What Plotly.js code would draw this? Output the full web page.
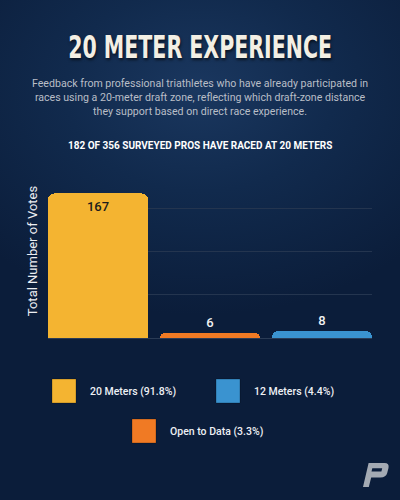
<!DOCTYPE html>
<html>
<head>
<meta charset="utf-8">
<script src="https://cdn.plot.ly/plotly-3.0.1.min.js"></script>
<style>
  html, body { margin: 0; padding: 0; }
  body {
    width: 400px; height: 500px; overflow: hidden;
    background: radial-gradient(ellipse 75% 45% at 50% 18%, #1a375f 0%, #112a4d 45%, #0b1d3a 100%) #0b1d3a;
  }
  #chart { width: 400px; height: 500px; }
</style>
</head>
<body>
<div id="chart"></div>
<script>
// Survey answers from pros who have raced with a 20 m draft zone
const categories = ["20 Meters", "Open to Data", "12 Meters"];
const votes = [167, 6, 8];
const barColors = ["#f4b431", "#f07a24", "#3a93d0"];
const respondents = 182;
const surveyed = 356;

const titleText = "20 METER EXPERIENCE";
const subtitleLines = [
  "Feedback from professional triathletes who have already participated in",
  "races using a 20-meter draft zone, reflecting which draft-zone distance",
  "they support based on direct race experience."
];
const headingText = respondents + " OF " + surveyed + " SURVEYED PROS HAVE RACED AT 20 METERS";

// Page geometry (pixels) -> paper coordinates
const W = 400, H = 500;
const M = { l: 48, r: 28, t: 164, b: 162 };
const PW = W - M.l - M.r, PH = H - M.t - M.b;
const xp = px => (px - M.l) / PW;
const yp = py => (H - M.b - py) / PH;

const pct = v => (v / respondents * 100).toFixed(1) + "%";

const bar = {
  type: "bar",
  x: categories,
  y: votes,
  width: 0.893,
  marker: { color: barColors, cornerradius: 6, line: { width: 0 } },
  text: votes.map(String),
  textposition: votes.map(v => v > 50 ? "inside" : "outside"),
  insidetextanchor: "end",
  insidetextfont: { family: "Roboto, sans-serif", size: 13, weight: 500, color: "#1c1c1c" },
  outsidetextfont: { family: "Roboto, sans-serif", size: 13, weight: 500, color: "#f2f2f2" },
  textangle: 0,
  cliponaxis: false,
  hoverinfo: "skip",
  showlegend: false
};

const annotations = [
  {
    text: titleText, xref: "paper", yref: "paper",
    x: xp(200), y: yp(47), xanchor: "center", yanchor: "middle", showarrow: false,
    font: { family: "DejaVu Sans Condensed", size: 31.5, weight: 700,
            color: "#f3efe4", shadow: "1px 2px 3px rgba(0,0,0,0.6)" }
  },
  {
    text: subtitleLines.join("<br>"), xref: "paper", yref: "paper",
    x: xp(200), y: yp(97), xanchor: "center", yanchor: "middle", showarrow: false, align: "center",
    font: { family: "Roboto, sans-serif", size: 10.6, color: "#b9bec7" }
  },
  {
    text: headingText, xref: "paper", yref: "paper",
    x: xp(200), y: yp(145), xanchor: "center", yanchor: "middle", showarrow: false,
    font: { family: "Roboto, sans-serif", size: 10, weight: 700, color: "#ffffff" }
  }
];

// Legend laid out in two rows, largest share first
const legendOrder = votes.map((v, i) => i).sort((a, b) => votes[b] - votes[a]);
const legendSlots = [[52, 379], [216, 379], [132, 419]];
const shapes = [];
legendOrder.forEach((idx, k) => {
  const [lx, ly] = legendSlots[k];
  shapes.push({
    type: "rect", xref: "paper", yref: "paper",
    x0: xp(lx), x1: xp(lx + 24), y0: yp(ly), y1: yp(ly + 24),
    fillcolor: barColors[idx], line: { color: "rgba(0,0,0,0.25)", width: 1 }
  });
  annotations.push({
    text: categories[idx] + " (" + pct(votes[idx]) + ")", xref: "paper", yref: "paper",
    x: xp(lx + 36), y: yp(ly + 12), xanchor: "left", yanchor: "middle", showarrow: false,
    font: { family: "Roboto, sans-serif", size: 10.5, weight: 500, color: "#eef0f4" }
  });
});

// Brand mark in the bottom-right corner
const P = (x, y) => xp(x).toFixed(4) + "," + yp(y).toFixed(4);
shapes.push({
  type: "path", xref: "paper", yref: "paper", fillrule: "evenodd",
  path: "M" + P(363, 487) + " L" + P(368.6, 463) + " L" + P(384.5, 463) +
        " Q" + P(389.5, 463) + " " + P(388.5, 468) + " L" + P(387.2, 473) +
        " Q" + P(386, 477.5) + " " + P(380.5, 477.5) + " L" + P(371.2, 477.5) +
        " L" + P(368.8, 487) + " Z" +
        " M" + P(372.3, 468.3) + " L" + P(382.2, 468.3) + " L" + P(381.4, 471.6) +
        " L" + P(371.5, 471.6) + " Z",
  fillcolor: "#a4aab3", line: { width: 0 }
});

const layout = {
  width: W, height: H,
  margin: M,
  paper_bgcolor: "rgba(0,0,0,0)",
  plot_bgcolor: "rgba(0,0,0,0)",
  bargap: 0,
  xaxis: {
    range: [-0.4465, 2.4465], showticklabels: false, showgrid: false,
    zeroline: false, showline: false, ticks: "", fixedrange: true
  },
  yaxis: {
    range: [0, 201], dtick: 50, showticklabels: false, ticks: "",
    gridcolor: "#24354f", gridwidth: 1,
    zeroline: true, zerolinecolor: "#2a3b55", zerolinewidth: 1,
    showline: false, fixedrange: true,
    title: { text: "Total Number of Votes", standoff: 6,
             font: { family: "Roboto, sans-serif", size: 13, color: "#eceef2" } }
  },
  annotations: annotations,
  shapes: shapes,
  showlegend: false
};

Plotly.newPlot("chart", [bar], layout, { displayModeBar: false, staticPlot: true }).then(gd => {
  // Narrow the headline horizontally into a tight, poster-style condensed face
  const t = gd.querySelector('.annotation[data-index="0"] text.annotation-text');
  if (t) {
    const bb = t.getBBox();
    const cx = bb.x + bb.width / 2;
    const s = 264 / bb.width;
    t.setAttribute("transform",
      "translate(" + cx + ",0) scale(" + s + ",1) translate(" + (-cx) + ",0)");
  }
});
</script>
</body>
</html>
